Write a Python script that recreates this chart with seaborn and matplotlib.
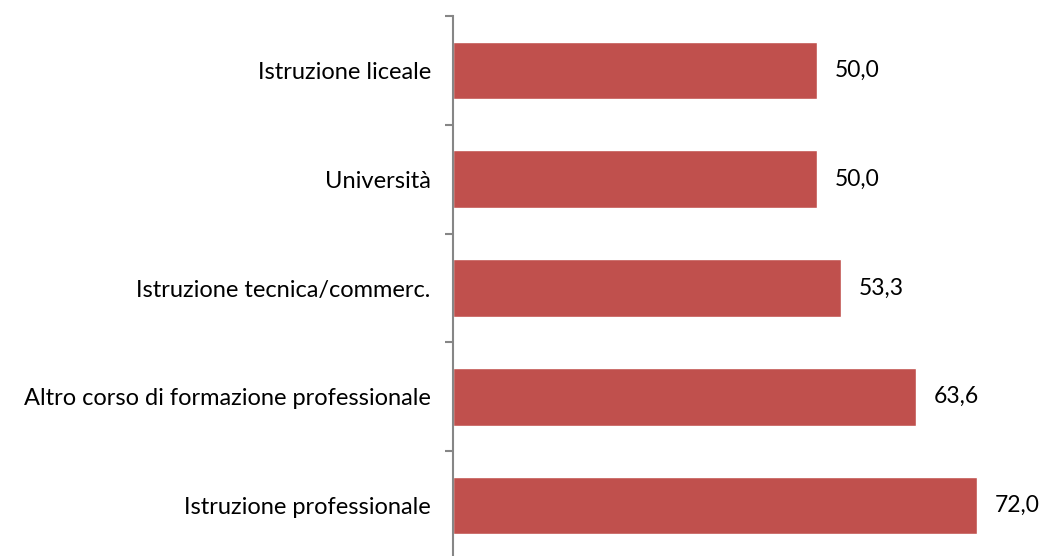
import matplotlib
matplotlib.use("Agg")
import matplotlib.pyplot as plt
import seaborn as sns
import pandas as pd
import numpy as np

categories = [
    "Istruzione liceale",
    "Università",
    "Istruzione tecnica/commerc.",
    "Altro corso di formazione professionale",
    "Istruzione professionale",
]
values = [50.0, 50.0, 53.3, 63.6, 72.0]

BAR_COLOR = "#C0504D"
AXIS_COLOR = "#868686"

sns.set_theme(style="white")
plt.rcParams["font.family"] = ["Lato", "DejaVu Sans"]

df = pd.DataFrame({"category": categories, "value": values})

fig = plt.figure(figsize=(10.44, 5.56), dpi=100)
ax = fig.add_axes([453 / 1044, -4 / 556, 580 / 1044, 544 / 556])

sns.barplot(data=df, x="value", y="category", orient="h", color=BAR_COLOR,
            width=0.53, saturation=1, ax=ax)

ax.set_xlim(0, 79.7)
ax.set_ylim(len(categories) - 0.5, -0.5)
ax.set_xlabel("")
ax.set_ylabel("")
ax.set_xticks([])

for s in ["top", "right", "bottom"]:
    ax.spines[s].set_visible(False)
ax.spines["left"].set_color(AXIS_COLOR)
ax.spines["left"].set_linewidth(1.5)

ax.tick_params(axis="y", which="major", length=0, pad=16, labelsize=17, labelcolor="#000000")
ax.set_yticks(np.arange(-0.5, len(categories) + 0.5, 1), minor=True)
ax.tick_params(axis="y", which="minor", length=6, width=1.5, color=AXIS_COLOR, left=True)

for i, v in enumerate(values):
    ax.text(v + 2.5, i, f"{v:.1f}".replace(".", ","), va="center", ha="left",
            fontsize=16.5, color="#000000")

fig.savefig("out.png", dpi=100)
